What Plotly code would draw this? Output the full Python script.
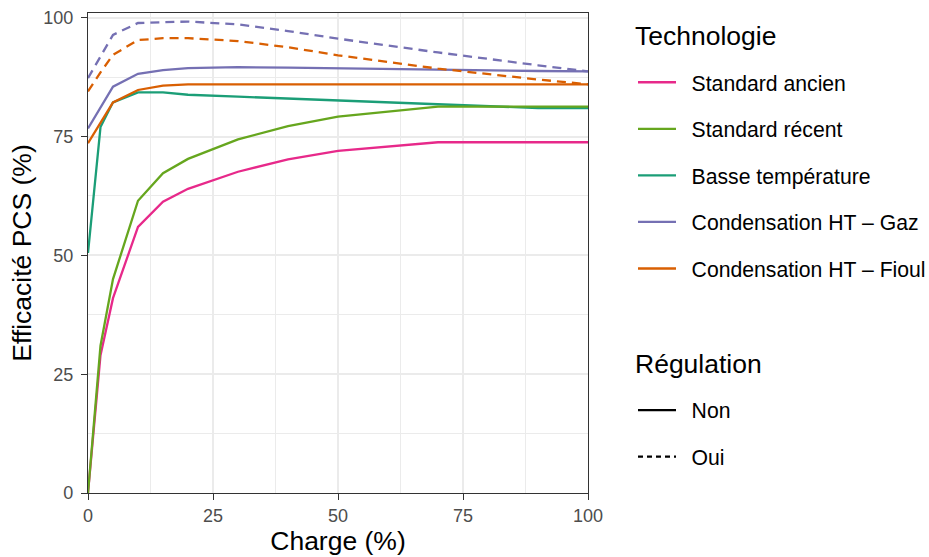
import plotly.graph_objects as go

# ---- data ----
charge = [0, 2.5, 5, 10, 15, 20, 30, 40, 50, 70, 90, 100]

standard_ancien = [0, 29, 41, 56, 61.3, 64, 67.6, 70.2, 72.0, 73.8, 73.8, 73.8]
standard_recent = [0, 31, 45, 61.5, 67.3, 70.3, 74.4, 77.2, 79.2, 81.3, 81.3, 81.3]
basse_temperature = [50.5, 77, 82.2, 84.3, 84.3, 83.8, 83.4, 83.0, 82.7, 81.8, 81.0, 81.0]
cond_gaz_non = [76.7, 81.1, 85.5, 88.2, 89.0, 89.4, 89.6, 89.5, 89.4, 89.1, 88.8, 88.7]
cond_gaz_oui = [87.3, 92.0, 96.4, 98.9, 99.1, 99.2, 98.6, 97.2, 95.6, 92.7, 90.0, 88.7]
cond_fioul_non = [73.6, 78.0, 82.2, 84.8, 85.7, 86.0, 86.0, 86.0, 86.0, 86.0, 86.0, 86.0]
cond_fioul_oui = [84.5, 88.5, 92.2, 95.3, 95.7, 95.7, 95.1, 93.8, 92.1, 89.3, 87.0, 86.0]

technologies = ["Standard ancien", "Standard récent", "Basse température",
                "Condensation HT \u2013 Gaz", "Condensation HT \u2013 Fioul"]
tech_colors = ["#E7298A", "#66A61E", "#1B9E77", "#7570B3", "#D95F02"]
regulations = ["Non", "Oui"]

x_ticks = [0, 25, 50, 75, 100]
y_ticks = [0, 25, 50, 75, 100]

FONT = "Liberation Sans, Arial, sans-serif"
LW = 2.3
DASH = "9px,6px"
TITLE_SIZE = 26.5
LEG_SIZE = 21.2

series = [
    (basse_temperature, 2, "solid"),
    (standard_ancien, 0, "solid"),
    (standard_recent, 1, "solid"),
    (cond_gaz_non, 3, "solid"),
    (cond_fioul_non, 4, "solid"),
    (cond_gaz_oui, 3, DASH),
    (cond_fioul_oui, 4, DASH),
]

fig = go.Figure()
for vals, ci, dash in series:
    fig.add_trace(go.Scatter(
        x=charge, y=vals, mode="lines",
        line=dict(color=tech_colors[ci], width=LW, dash=dash),
        showlegend=False, hoverinfo="skip"))

PAD = "\u2002"
# legend entries: Technologie
for i, (name, col) in enumerate(zip(technologies, tech_colors)):
    fig.add_trace(go.Scatter(
        x=[None], y=[None], mode="lines", name=PAD + name,
        line=dict(color=col, width=LW), legend="legend",
        legendgroup="t%d" % i, showlegend=True))

# legend entries: Régulation
for i, reg in enumerate(regulations):
    fig.add_trace(go.Scatter(
        x=[None], y=[None], mode="lines", name=PAD + reg,
        line=dict(color="black", width=LW, dash="solid" if reg == "Non" else "5px,4px"),
        legend="legend2", legendgroup="r%d" % i, showlegend=True))

axis_common = dict(
    showline=True, linecolor="#333333", linewidth=1.3, mirror=True,
    ticks="outside", ticklen=6, tickcolor="#333333", tickwidth=1.3,
    tickfont=dict(family=FONT, size=18, color="#4D4D4D"),
    showgrid=True, gridcolor="#EBEBEB", gridwidth=2,
    zeroline=False, automargin=False,
    minor=dict(showgrid=True, gridcolor="#EBEBEB", gridwidth=1, ticks=""),
)

fig.update_xaxes(
    range=[0, 100], tickvals=x_ticks, ticktext=[str(v) for v in x_ticks],
    minor_tickvals=[12.5, 37.5, 62.5, 87.5],
    title=dict(text="Charge (%)", font=dict(family=FONT, size=TITLE_SIZE, color="black"), standoff=4),
    **axis_common)
fig.update_yaxes(
    range=[0, 101], tickvals=y_ticks, ticktext=[str(v) for v in y_ticks],
    minor_tickvals=[12.5, 37.5, 62.5, 87.5],
    ticklabelstandoff=4,
    title=dict(text="Efficacité PCS (%)", font=dict(family=FONT, size=TITLE_SIZE, color="black"), standoff=3),
    **axis_common)

legend_common = dict(
    font=dict(family=FONT, size=LEG_SIZE, color="black"),
    bgcolor="rgba(0,0,0,0)", borderwidth=0,
    xanchor="left", yanchor="top", tracegroupgap=16, itemwidth=38,
    orientation="v",
)

fig.update_layout(
    width=929, height=557,
    margin=dict(l=88, r=341, t=13, b=64, autoexpand=False),
    plot_bgcolor="white", paper_bgcolor="white",
    font=dict(family=FONT, color="black"),
    legend=dict(x=1.09, y=0.898, **legend_common),
    legend2=dict(x=1.09, y=0.215, **legend_common),
    annotations=[
        dict(text="Technologie", xref="paper", yref="paper", x=1.09, y=0.952,
             xanchor="left", yanchor="middle", showarrow=False,
             font=dict(family=FONT, size=TITLE_SIZE, color="black")),
        dict(text="Régulation", xref="paper", yref="paper", x=1.09, y=0.269,
             xanchor="left", yanchor="middle", showarrow=False,
             font=dict(family=FONT, size=TITLE_SIZE, color="black")),
    ],
)

fig.write_html("out.html", config={"displayModeBar": False},
               post_script="document.body.style.margin='0';")
